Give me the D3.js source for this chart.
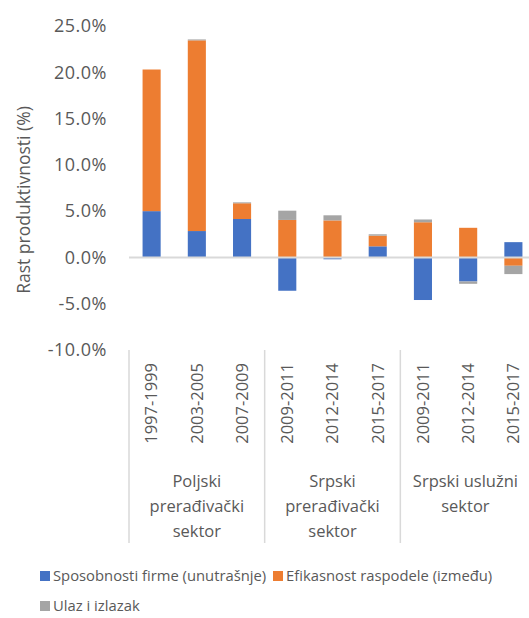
<!DOCTYPE html>
<html lang="sr">
<head>
<meta charset="UTF-8">
<title>Rast produktivnosti</title>
<script src="https://cdn.jsdelivr.net/npm/d3@7"></script>
<style>
  body { margin: 0; background: #fff; }
  svg { display: block; font-family: "Open Sans", sans-serif; }
</style>
</head>
<body>
<svg class="root"></svg>
<script>
// data
const periods = ["1997-1999", "2003-2005", "2007-2009",
                 "2009-2011", "2012-2014", "2015-2017",
                 "2009-2011", "2012-2014", "2015-2017"];
const groups = [["Poljski", "prerađivački", "sektor"],
                ["Srpski", "prerađivački", "sektor"],
                ["Srpski uslužni", "sektor"]];
const groupSize = 3;
const seriesNames = ["Sposobnosti firme (unutrašnje)", "Efikasnost raspodele (između)", "Ulaz i izlazak"];
const within = [5.0, 2.85, 4.15, -3.6, -0.2, 1.2, -4.6, -2.6, 1.65];
const between = [15.3, 20.6, 1.7, 4.05, 4.0, 1.15, 3.8, 3.2, -0.9];
const entryExit = [0.0, 0.1, 0.1, 1.0, 0.55, 0.15, 0.3, -0.25, -0.9];
const yTicks = [-10, -5, 0, 5, 10, 15, 20, 25];

const width = 529, height = 618;
const margin = {top: 26, left: 129, right: -7, bottom: 268};
const colors = ["#4472C4", "#ED7D31", "#A5A5A5"];
const textColor = "#595959";
const lineColor = "#d9d9d9";

const rows = periods.map((p, i) => ({i, s0: within[i], s1: between[i], s2: entryExit[i]}));
const keys = ["s0", "s1", "s2"];

const x = d3.scaleBand()
    .domain(d3.range(periods.length))
    .range([margin.left, width - margin.right])
    .paddingInner(0.6)
    .paddingOuter(0.3);

const y = d3.scaleLinear()
    .domain([-10, 25])
    .range([height - margin.bottom, margin.top]);

const stacked = d3.stack().keys(keys).offset(d3.stackOffsetDiverging)(rows);

const svg = d3.select(".root")
    .attr("width", width)
    .attr("height", height);

// bars
svg.append("g")
  .selectAll("g")
  .data(stacked)
  .join("g")
    .attr("fill", (d, i) => colors[i])
  .selectAll("rect")
  .data(d => d)
  .join("rect")
    .attr("x", d => x(d.data.i))
    .attr("width", x.bandwidth())
    .attr("y", d => y(Math.max(d[0], d[1])))
    .attr("height", d => Math.abs(y(d[0]) - y(d[1])));

// zero line
svg.append("line")
    .attr("x1", margin.left)
    .attr("x2", width - margin.right)
    .attr("y1", y(0))
    .attr("y2", y(0))
    .attr("stroke", lineColor)
    .attr("stroke-width", 2);

// y axis labels
svg.append("g")
    .attr("fill", textColor)
    .style("font-size", "18px")
    .style("letter-spacing", "0.5px")
    .attr("text-anchor", "end")
  .selectAll("text")
  .data(yTicks)
  .join("text")
    .attr("x", 107)
    .attr("y", d => y(d))
    .attr("dy", "0.35em")
    .text(d => d.toFixed(1) + "%");

svg.append("text")
    .attr("transform", `translate(24,${(y(25) + y(-10)) / 2 + 12}) rotate(-90)`)
    .attr("text-anchor", "middle")
    .attr("dy", "0.35em")
    .attr("fill", textColor)
    .style("font-size", "17.5px")
    .text("Rast produktivnosti (%)");

// category labels (rotated)
const axisTop = y(-10);
svg.append("g")
    .attr("fill", textColor)
    .style("font-size", "16.5px")
  .selectAll("text")
  .data(periods)
  .join("text")
    .attr("transform", (d, i) => `translate(${x(i) + x.bandwidth() / 2},${axisTop + 13}) rotate(-90)`)
    .attr("text-anchor", "end")
    .attr("dy", "0.35em")
    .text(d => d);

// group separators
const step = x.step();
const sepX = d3.range(groups.length + 1).map(g => margin.left + g * groupSize * step);
svg.append("g")
    .attr("stroke", lineColor)
    .attr("stroke-width", 1.5)
  .selectAll("line")
  .data(sepX)
  .join("line")
    .attr("x1", d => d)
    .attr("x2", d => d)
    .attr("y1", axisTop)
    .attr("y2", axisTop + 193);

// group labels, last one pushed left so it stays inside the chart
const groupLabels = svg.append("g")
    .attr("fill", textColor)
    .style("font-size", "16.5px")
    .attr("text-anchor", "middle")
  .selectAll("text")
  .data(groups)
  .join("text")
    .attr("y", axisTop + 137);

groupLabels.each(function(d, g) {
  const node = d3.select(this);
  const cx = margin.left + (g + 0.5) * groupSize * step;
  const spans = node.selectAll("tspan")
    .data(d)
    .join("tspan")
      .attr("x", cx)
      .attr("dy", (t, i) => i === 0 ? 0 : 25)
      .text(t => t);
  const half = this.getBBox().width / 2;
  spans.attr("x", Math.min(cx, width - 11 - half));
});

// legend
const legendItems = [
  {name: seriesNames[0], color: colors[0], x: 40, y: 576},
  {name: seriesNames[1], color: colors[1], x: 273, y: 576},
  {name: seriesNames[2], color: colors[2], x: 40, y: 606}
];
const legend = svg.append("g")
    .style("font-size", "14.8px")
  .selectAll("g")
  .data(legendItems)
  .join("g")
    .attr("transform", d => `translate(${d.x},${d.y})`);

legend.append("rect")
    .attr("y", -5)
    .attr("width", 10)
    .attr("height", 10)
    .attr("fill", d => d.color);

legend.append("text")
    .attr("x", 13)
    .attr("dy", "0.35em")
    .attr("fill", textColor)
    .text(d => d.name);
</script>
</body>
</html>
